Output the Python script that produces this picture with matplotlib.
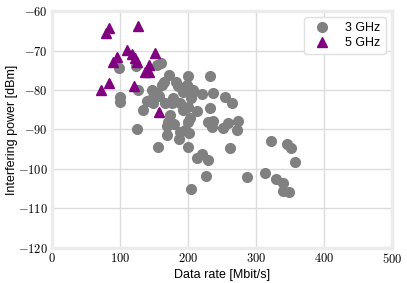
import matplotlib
matplotlib.use("Agg")
import matplotlib.pyplot as plt
from matplotlib.ticker import FuncFormatter

plt.rcParams['font.family'] = ['Liberation Sans', 'DejaVu Sans']
plt.rcParams['mathtext.fontset'] = 'cm'

# 3 GHz measurements (data rate in Mbit/s, interfering power in dBm)
rate_3ghz = [98, 100, 100, 124, 124.5, 127,
             154, 160, 172, 200, 232,
             164, 183, 161, 198,
             147, 154, 193, 208, 220, 237, 254, 264,
             139, 144, 149, 166, 176, 188, 200, 213, 232,
             134, 174, 203, 171, 200, 230, 237, 259, 274,
             169, 252, 272, 235, 196, 188, 169, 186,
             200, 156, 262,
             220, 213, 230,
             227, 204, 287,
             322, 345, 352, 357, 313, 329, 340, 340, 348,
             178, 192, 205, 185, 158, 202, 180, 200, 207]
power_3ghz = [-74.5, -81.7, -83, -74, -89.9, -80,
              -73.7, -73.1, -76.2, -76.5, -76.4,
              -77.9, -77.9, -78.7, -78.7,
              -80, -80.8, -80.4, -80.4, -81.1, -80.8, -81.7, -83.2,
              -82.8, -82.5, -83.4, -83.4, -83.4, -83.4, -84.2, -85.3, -84.6,
              -85.1, -86.3, -87.2, -88, -88, -88, -87.8, -88.3, -87.8,
              -89, -89.7, -90.1, -89.4, -90.1, -90.6, -91.4, -92.5,
              -94.5, -94.4, -94.6,
              -96.3, -97.3, -97.8,
              -101.9, -105.1, -102.1,
              -92.9, -93.7, -94.6, -98.2, -101.1, -102.5, -103.5, -105.5, -105.9,
              -82, -85, -82, -79, -81.5, -91, -88.6, -79.2, -80]

# 5 GHz measurements
rate_5ghz = [84, 80, 127, 110, 95, 90, 117, 122, 125, 151, 143, 136, 143,
             84, 72, 120, 158]
power_5ghz = [-64.4, -65.6, -63.8, -69.9, -71.7, -72.8, -70.9, -72, -72.8,
              -70.6, -73.7, -75.4, -75.4, -78.2, -80, -79, -85.7]

x_ticks = [0, 100, 200, 300, 400, 500]
y_ticks = [-120, -110, -100, -90, -80, -70, -60]

fig = plt.figure(figsize=(4.07, 2.83), dpi=100)
ax = fig.add_axes([0.128, 0.124, 0.835, 0.837])

ax.plot(rate_3ghz, power_3ghz, 'o', color='gray', markersize=7, label='3 GHz')
ax.plot(rate_5ghz, power_5ghz, '^', color='purple', markersize=7.5, label='5 GHz')

ax.set_xlim(0, 500)
ax.set_ylim(-120, -60)
ax.set_xticks(x_ticks)
ax.set_yticks(y_ticks)
fmt = FuncFormatter(lambda v, pos: f'${int(v)}$')
ax.xaxis.set_major_formatter(fmt)
ax.yaxis.set_major_formatter(fmt)
ax.tick_params(length=0, labelsize=9, pad=3)

ax.grid(True, color='#dcdcdc', linewidth=1)
ax.set_axisbelow(True)
for s in ax.spines.values():
    s.set_color('#ececec')
    s.set_linewidth(2.5)

ax.set_xlabel('Data rate [Mbit/s]', fontsize=9, labelpad=2)
ax.set_ylabel('Interfering power [dBm]', fontsize=9, labelpad=0)

leg = ax.legend(loc='upper right', fontsize=9, markerfirst=True,
                handletextpad=0.9, borderpad=0.4, labelspacing=0.25,
                handlelength=2.0, framealpha=1, borderaxespad=0.5)
leg.get_frame().set_edgecolor('#e0e0e0')

fig.savefig('out.png', dpi=100)
